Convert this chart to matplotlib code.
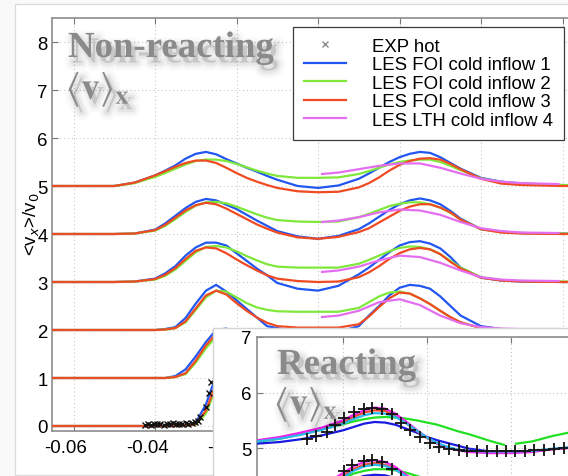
import numpy as np
import matplotlib
matplotlib.use("Agg")
import matplotlib.pyplot as plt
from matplotlib.patches import Rectangle
from matplotlib.lines import Line2D
import matplotlib.patheffects as pe
import matplotlib.transforms as mtransforms

# ---------------- data : non-reacting (main panel) ----------------
XG = [-0.066, -0.05, -0.045, -0.04, -0.0375, -0.035, -0.0325, -0.03, -0.0275, -0.025,
      -0.0225, -0.02, -0.0175, -0.015, -0.0125, -0.01, -0.005, 0.0, 0.005, 0.01,
      0.0125, 0.015, 0.0175, 0.02, 0.0225, 0.025, 0.0275, 0.03, 0.0325, 0.035,
      0.04, 0.045, 0.05, 0.06, 0.075]

BLUE = [
    [0.0, 0.0, 0.0, 0.0, 0.0, 0.0, 0.01, 0.07, 0.45, 1.05, 1.15, 1.05, 0.85, 0.62, 0.40, 0.22, 0.02, -0.05, 0.05, 0.35, 0.60, 0.85, 1.02, 1.08, 1.0, 0.80, 0.55, 0.32, 0.15, 0.06, 0.01, 0.0, 0.0, 0.0, 0.0],
    [1.0, 1.0, 1.0, 1.0, 1.0, 1.04, 1.18, 1.45, 1.75, 2.0, 2.03, 1.88, 1.66, 1.44, 1.24, 1.08, 0.94, 0.88, 0.95, 1.20, 1.45, 1.70, 1.90, 2.0, 2.02, 1.95, 1.80, 1.60, 1.40, 1.22, 1.06, 1.02, 1.0, 1.0, 1.0],
    [2.0, 2.0, 2.0, 2.0, 2.02, 2.06, 2.25, 2.55, 2.82, 2.94, 2.80, 2.62, 2.44, 2.26, 2.08, 2.04, 1.97, 1.92, 1.96, 2.08, 2.30, 2.50, 2.72, 2.88, 2.94, 2.92, 2.86, 2.70, 2.50, 2.30, 2.08, 2.02, 2.01, 2.0, 2.0],
    [3.0, 3.0, 3.01, 3.07, 3.18, 3.33, 3.55, 3.72, 3.82, 3.82, 3.76, 3.60, 3.44, 3.28, 3.14, 2.98, 2.86, 2.82, 2.92, 3.16, 3.30, 3.46, 3.62, 3.76, 3.83, 3.85, 3.80, 3.70, 3.52, 3.30, 3.09, 3.03, 3.01, 3.0, 3.0],
    [4.0, 4.0, 4.01, 4.09, 4.22, 4.38, 4.54, 4.67, 4.73, 4.70, 4.61, 4.52, 4.40, 4.28, 4.17, 4.06, 3.95, 3.90, 3.96, 4.10, 4.22, 4.36, 4.50, 4.62, 4.70, 4.74, 4.70, 4.62, 4.48, 4.32, 4.10, 4.05, 4.02, 4.01, 4.0],
    [5.0, 5.0, 5.07, 5.22, 5.32, 5.43, 5.57, 5.67, 5.71, 5.66, 5.56, 5.47, 5.38, 5.30, 5.21, 5.13, 5.00, 4.96, 5.01, 5.15, 5.26, 5.38, 5.50, 5.60, 5.67, 5.71, 5.69, 5.60, 5.48, 5.36, 5.17, 5.09, 5.05, 5.02, 5.01],
]
GREEN = [
    [0.0, 0.0, 0.0, 0.0, 0.0, 0.0, 0.01, 0.03, 0.26, 0.80, 1.05, 1.0, 0.85, 0.65, 0.45, 0.30, 0.15, 0.12, 0.15, 0.30, 0.50, 0.75, 0.95, 1.02, 0.98, 0.80, 0.55, 0.32, 0.15, 0.06, 0.01, 0.0, 0.0, 0.0, 0.0],
    [1.0, 1.0, 1.0, 1.0, 1.0, 1.02, 1.08, 1.32, 1.62, 1.86, 1.95, 1.86, 1.70, 1.52, 1.40, 1.33, 1.30, 1.30, 1.30, 1.40, 1.55, 1.72, 1.85, 1.92, 1.88, 1.75, 1.58, 1.40, 1.25, 1.14, 1.03, 1.01, 1.0, 1.0, 1.0],
    [2.0, 2.0, 2.0, 2.0, 2.01, 2.04, 2.16, 2.42, 2.68, 2.82, 2.80, 2.68, 2.56, 2.47, 2.42, 2.39, 2.38, 2.38, 2.38, 2.46, 2.58, 2.70, 2.78, 2.80, 2.76, 2.66, 2.54, 2.40, 2.26, 2.16, 2.04, 2.01, 2.0, 2.0, 2.0],
    [3.0, 3.0, 3.01, 3.05, 3.13, 3.26, 3.44, 3.62, 3.73, 3.75, 3.72, 3.64, 3.54, 3.45, 3.37, 3.32, 3.30, 3.30, 3.30, 3.38, 3.46, 3.55, 3.64, 3.71, 3.74, 3.73, 3.68, 3.58, 3.44, 3.30, 3.10, 3.04, 3.02, 3.01, 3.0],
    [4.0, 4.0, 4.01, 4.07, 4.17, 4.31, 4.46, 4.59, 4.66, 4.67, 4.64, 4.57, 4.49, 4.41, 4.34, 4.29, 4.26, 4.25, 4.26, 4.35, 4.42, 4.50, 4.58, 4.63, 4.66, 4.66, 4.62, 4.55, 4.44, 4.30, 4.10, 4.04, 4.02, 4.01, 4.0],
    [5.0, 5.0, 5.06, 5.19, 5.27, 5.36, 5.45, 5.52, 5.55, 5.55, 5.52, 5.46, 5.39, 5.32, 5.26, 5.21, 5.17, 5.17, 5.18, 5.25, 5.31, 5.38, 5.45, 5.50, 5.53, 5.55, 5.55, 5.50, 5.42, 5.33, 5.16, 5.08, 5.05, 5.02, 5.01],
]
RED = [
    [0.0, 0.0, 0.0, 0.0, 0.0, 0.0, 0.01, 0.04, 0.32, 0.88, 1.10, 1.02, 0.82, 0.60, 0.38, 0.20, 0.03, -0.02, 0.04, 0.28, 0.52, 0.78, 0.98, 1.05, 1.0, 0.80, 0.55, 0.32, 0.15, 0.06, 0.01, 0.0, 0.0, 0.0, 0.0],
    [1.0, 1.0, 1.0, 1.0, 1.0, 1.02, 1.10, 1.36, 1.68, 1.92, 1.96, 1.82, 1.62, 1.42, 1.26, 1.15, 1.06, 1.04, 1.05, 1.15, 1.32, 1.55, 1.78, 1.93, 1.97, 1.90, 1.74, 1.55, 1.36, 1.20, 1.05, 1.01, 1.0, 1.0, 1.0],
    [2.0, 2.0, 2.0, 2.0, 2.01, 2.04, 2.18, 2.45, 2.72, 2.82, 2.74, 2.56, 2.40, 2.26, 2.15, 2.08, 2.05, 2.05, 2.05, 2.12, 2.28, 2.48, 2.66, 2.78, 2.76, 2.66, 2.54, 2.40, 2.27, 2.16, 2.04, 2.01, 2.0, 2.0, 2.0],
    [3.0, 3.0, 3.01, 3.06, 3.15, 3.29, 3.48, 3.65, 3.72, 3.70, 3.60, 3.47, 3.35, 3.24, 3.14, 3.07, 3.02, 3.00, 3.01, 3.10, 3.20, 3.33, 3.48, 3.60, 3.68, 3.71, 3.68, 3.58, 3.42, 3.28, 3.09, 3.03, 3.01, 3.0, 3.0],
    [4.0, 4.0, 4.01, 4.08, 4.19, 4.34, 4.49, 4.60, 4.65, 4.62, 4.53, 4.42, 4.31, 4.20, 4.11, 4.03, 3.93, 3.90, 3.94, 4.04, 4.12, 4.24, 4.36, 4.48, 4.57, 4.62, 4.62, 4.55, 4.45, 4.30, 4.10, 4.03, 4.01, 4.0, 4.0],
    [5.0, 5.0, 5.07, 5.22, 5.31, 5.40, 5.48, 5.53, 5.53, 5.48, 5.38, 5.27, 5.17, 5.09, 5.02, 4.96, 4.89, 4.87, 4.88, 4.97, 5.06, 5.18, 5.32, 5.44, 5.52, 5.57, 5.58, 5.55, 5.46, 5.35, 5.15, 5.05, 5.02, 5.0, 5.0],
]
XM = [0.001, 0.005, 0.01, 0.015, 0.02, 0.025, 0.03, 0.035, 0.04, 0.045, 0.05, 0.059]
MAGENTA = [
    [0.28, 0.32, 0.45, 0.68, 0.80, 0.65, 0.40, 0.18, 0.07, 0.03, 0.02, 0.02],
    [1.28, 1.32, 1.45, 1.68, 1.80, 1.65, 1.40, 1.18, 1.07, 1.03, 1.02, 1.02],
    [2.27, 2.30, 2.40, 2.58, 2.64, 2.52, 2.30, 2.14, 2.06, 2.03, 2.02, 2.02],
    [3.21, 3.24, 3.32, 3.45, 3.55, 3.52, 3.40, 3.24, 3.10, 3.05, 3.03, 3.02],
    [4.25, 4.28, 4.35, 4.45, 4.51, 4.49, 4.40, 4.25, 4.12, 4.06, 4.03, 4.02],
    [5.25, 5.28, 5.35, 5.42, 5.47, 5.47, 5.38, 5.26, 5.15, 5.09, 5.06, 5.04],
]
EXP_X = [-0.0425, -0.0417, -0.0410, -0.0402, -0.0394, -0.0387, -0.0379, -0.0371, -0.0364,
         -0.0356, -0.0348, -0.0341, -0.0333, -0.0325, -0.0318, -0.0310, -0.0302, -0.0295,
         -0.0289, -0.0276, -0.0268, -0.0262]
EXP_Y = [0.03, 0.04, 0.02, 0.05, 0.04, 0.05, 0.03, 0.05, 0.04, 0.06, 0.04, 0.05, 0.05,
         0.06, 0.05, 0.07, 0.08, 0.10, 0.19, 0.40, 0.68, 0.92]

LEGEND_LABELS = ["EXP hot", "LES FOI cold inflow 1", "LES FOI cold inflow 2",
                 "LES FOI cold inflow 3", "LES LTH cold inflow 4"]
YTICKS = [0, 1, 2, 3, 4, 5, 6, 7, 8]
XTICKS = [-0.06, -0.04, -0.02, 0.0, 0.02, 0.04, 0.06]
# labels right of -0.02 lie under the inset card in the reference
XTICKLABELS = ["-0.06", "-0.04", "-0.02", "", "", "", ""]

# ---------------- data : reacting (inset) ----------------
XI = [-0.0405, -0.035, -0.03, -0.025, -0.02, -0.0175, -0.015, -0.0125, -0.01, -0.0075, -0.005,
      -0.0025, 0.0, 0.0025, 0.005, 0.0075, 0.01, 0.015, 0.02, 0.025, 0.03, 0.039]
MAG_I = [
    [4.05, 4.10, 4.18, 4.32, 4.55, 4.67, 4.75, 4.78, 4.75, 4.66, 4.52, 4.38, 4.25, 4.14, 4.06, 4.01, 3.98, 3.95, 3.94, 3.95, 3.98, 4.02],
    [5.14, 5.20, 5.28, 5.37, 5.50, 5.60, 5.68, 5.73, 5.71, 5.62, 5.48, 5.33, 5.19, 5.08, 5.00, 4.96, 4.93, 4.91, 4.91, 4.93, 4.98, 5.04],
]
RED_I = [
    [4.04, 4.09, 4.16, 4.29, 4.50, 4.62, 4.70, 4.73, 4.70, 4.62, 4.49, 4.36, 4.24, 4.13, 4.05, 4.01, 3.98, 3.96, 3.95, 3.96, 3.98, 4.02],
    [5.13, 5.19, 5.26, 5.35, 5.47, 5.56, 5.64, 5.68, 5.67, 5.58, 5.45, 5.31, 5.18, 5.08, 5.01, 4.97, 4.95, 4.93, 4.93, 4.94, 4.98, 5.04],
]
CYAN_I = [
    [4.03, 4.08, 4.15, 4.27, 4.47, 4.59, 4.67, 4.70, 4.68, 4.61, 4.49, 4.36, 4.24, 4.13, 4.05, 4.01, 3.98, 3.96, 3.96, 3.97, 3.99, 4.03],
    [5.12, 5.17, 5.24, 5.33, 5.44, 5.52, 5.59, 5.63, 5.62, 5.56, 5.45, 5.32, 5.19, 5.09, 5.02, 4.97, 4.95, 4.94, 4.94, 4.95, 4.99, 5.05],
]
BLUE_I = [
    [4.02, 4.05, 4.10, 4.20, 4.36, 4.44, 4.50, 4.52, 4.51, 4.46, 4.38, 4.30, 4.22, 4.14, 4.07, 4.02, 3.98, 3.95, 3.95, 3.96, 3.98, 4.02],
    [5.08, 5.11, 5.16, 5.23, 5.32, 5.38, 5.44, 5.47, 5.46, 5.42, 5.35, 5.28, 5.20, 5.14, 5.09, 5.04, 4.99, 4.94, 4.93, 4.94, 4.98, 5.04],
]
XGI = [-0.0405, -0.035, -0.03, -0.025, -0.02, -0.0175, -0.015, -0.0125, -0.01, -0.0075, -0.005,
       -0.0025, 0.0, 0.0025, 0.005, 0.0075, 0.01, 0.015, 0.0183, 0.0197, 0.0212, 0.025, 0.03, 0.039]
GREEN_I = [
    [4.04, 4.10, 4.18, 4.30, 4.46, 4.54, 4.59, 4.62, 4.62, 4.60, 4.56, 4.50, 4.44, 4.38, 4.32, 4.26, 4.20, 4.10, 4.05, np.nan, 4.05, 4.08, 4.14, 4.25],
    [5.11, 5.17, 5.25, 5.34, 5.43, 5.48, 5.52, 5.55, 5.56, 5.55, 5.53, 5.50, 5.46, 5.42, 5.36, 5.30, 5.25, 5.13, 5.06, np.nan, 5.08, 5.12, 5.22, 5.36],
]
EXPI_X = [
    [-0.0198, -0.0179, -0.0151, -0.0131, -0.0107, -0.0083, -0.0063],
    [-0.0286, -0.0264, -0.0239, -0.0218, -0.0197, -0.0175, -0.0151, -0.0131, -0.0107, -0.0083,
     -0.0063, -0.0040, -0.0016, 0.0008, 0.0028, 0.0052, 0.0075, 0.0095, 0.0119, 0.0143,
     0.0167, 0.0187, 0.0210, 0.0234, 0.0254, 0.0278, 0.0302, 0.0325],
]
EXPI_Y = [
    [4.58, 4.69, 4.76, 4.78, 4.75, 4.63, 4.48],
    [5.17, 5.21, 5.29, 5.41, 5.55, 5.65, 5.71, 5.73, 5.70, 5.61, 5.46, 5.32, 5.20, 5.10,
     5.02, 4.98, 4.96, 4.95, 4.94, 4.94, 4.94, 4.94, 4.95, 4.95, 4.96, 4.96, 4.98, 5.00],
]
INSET_YTICKS = [5, 6, 7]
INSET_XTICKS = [-0.02, 0.0, 0.02]

# ---------------- styles ----------------
C_BLUE, C_GREEN, C_RED, C_MAG = "#2156f0", "#7fe83a", "#ef4a22", "#e46ef0"
CI_BLUE, CI_GREEN, CI_RED, CI_MAG, CI_CYAN = "#1a1ae0", "#22e022", "#e84a2c", "#f020f0", "#2ab8ea"
TXT_GRAY = "#8a8a8a"
SANS = "Liberation Sans"

W, H = 568, 477
fig = plt.figure(figsize=(W / 100, H / 100), dpi=100)
fig.patch.set_facecolor("#f9f9f9")


def FX(p):
    return p / W


def FY(p):
    return 1 - p / H


# outer white card
fig.patches.append(Rectangle((FX(15), FY(476)), 1.2, FY(5) - FY(476), transform=fig.transFigure,
                             facecolor="white", edgecolor="#dcdcdc", lw=1.0, zorder=0))

# ---------------- main axes ----------------
X0, SX = 318.0, 4075.0      # px at x=0, px per unit
Y0, SY = 427.0, 48.0
L, R, T, B = 52, 625, 19, 432
ax = fig.add_axes([FX(L), FY(B), (R - L) / W, (B - T) / H], zorder=1)
ax.set_xlim(-(X0 - L) / SX, (R - X0) / SX)
ax.set_ylim(-(B - Y0) / SY, (Y0 - T) / SY)
ax.set_facecolor("white")

for k in range(6):
    ax.plot(XG, BLUE[k], color=C_BLUE, lw=1.6, zorder=3)
    ax.plot(XG, GREEN[k], color=C_GREEN, lw=1.6, zorder=3)
    ax.plot(XG, RED[k], color=C_RED, lw=1.6, zorder=3)
    ax.plot(XM, MAGENTA[k], color=C_MAG, lw=1.6, zorder=3)
ax.plot(EXP_X, EXP_Y, ls="none", marker="x", ms=4.5, mew=1.0, color="#111111", zorder=4)

ax.set_xticks(XTICKS)
ax.set_xticklabels(XTICKLABELS)
ax.set_yticks(YTICKS)
ax.tick_params(direction="in", length=4, width=0.8, color="#777777", top=True, right=True,
               labelsize=13.4, pad=3)
ax.tick_params(axis="x", pad=6)
for lab in ax.get_xticklabels() + ax.get_yticklabels():
    lab.set_fontfamily(SANS)
offset = mtransforms.ScaledTranslation(-8 / 100, 0, fig.dpi_scale_trans)
for lab in ax.get_xticklabels():
    lab.set_transform(lab.get_transform() + offset)
ax.grid(True, color="#c8c8c8", lw=0.8, ls=(0, (1, 2.5)))
for s in ax.spines.values():
    s.set_color("#8c8c8c")
    s.set_linewidth(1.2)

handles = [Line2D([], [], ls="none", marker="x", ms=5, mew=1.0, color="#8c8c8c"),
           Line2D([], [], color=C_BLUE, lw=1.6), Line2D([], [], color=C_GREEN, lw=1.6),
           Line2D([], [], color=C_RED, lw=1.6), Line2D([], [], color=C_MAG, lw=1.6)]
leg = ax.legend(handles, LEGEND_LABELS, loc="upper left", bbox_to_anchor=(FX(293), FY(28)),
                bbox_transform=fig.transFigure, frameon=True, fancybox=False,
                edgecolor="#3a3a3a", framealpha=1, prop=dict(family=SANS, size=13.4),
                handlelength=2.25, handletextpad=1.4, labelspacing=0.08, borderpad=0.58,
                borderaxespad=0)
leg.get_frame().set_linewidth(0.9)
leg.set_zorder(6)

# y label
fig.text(FX(32), FY(224), r"<v$_x$>/v$_0$", rotation=90, ha="center", va="center",
         fontsize=13.4, family=SANS, zorder=1.5)


def shadow():
    return [pe.Stroke(offset=(3, -4), linewidth=11, foreground="#000000", alpha=0.022),
            pe.Stroke(offset=(3, -4), linewidth=7, foreground="#000000", alpha=0.03),
            pe.Stroke(offset=(3, -4), linewidth=4, foreground="#000000", alpha=0.045),
            pe.SimplePatchShadow(offset=(3, -4), shadow_rgbFace="#000000", alpha=0.09),
            pe.Normal()]


fig.text(FX(68), FY(58), "Non-reacting", family="Liberation Serif", weight="bold",
         fontsize=26.5, color=TXT_GRAY, va="baseline", ha="left", zorder=1.5,
         path_effects=shadow())
fig.text(FX(66), FY(100), r"$\langle\mathbf{v}\rangle_{\mathbf{x}}$", math_fontfamily="stix",
         fontsize=27, color=TXT_GRAY, va="baseline", ha="left", zorder=1.5,
         path_effects=shadow())

# ---------------- inset ----------------
fig.patches.append(Rectangle((FX(213), FY(500)), 1.0, FY(329) - FY(500), transform=fig.transFigure,
                             facecolor="white", edgecolor="#d4d4d4", lw=1.0, zorder=2))
XI0, SXI = 427.0, 4200.0
YI0, SYI = 449.0, 55.7
Li, Ri, Ti, Bi = 257, 590, 338, 490
axi = fig.add_axes([FX(Li), FY(Bi), (Ri - Li) / W, (Bi - Ti) / H], zorder=3)
axi.set_xlim(-(XI0 - Li) / SXI, (Ri - XI0) / SXI)
axi.set_ylim(5 - (Bi - YI0) / SYI, 5 + (YI0 - Ti) / SYI)
axi.set_facecolor("white")
for k in range(2):
    axi.plot(XGI, GREEN_I[k], color=CI_GREEN, lw=1.6, zorder=3)
    axi.plot(XI, BLUE_I[k], color=CI_BLUE, lw=1.6, zorder=3)
    axi.plot(XI, RED_I[k], color=CI_RED, lw=1.6, zorder=3)
    axi.plot(XI, MAG_I[k], color=CI_MAG, lw=1.6, zorder=3)
    axi.plot(XI, CYAN_I[k], color=CI_CYAN, lw=1.6, zorder=3)
    axi.plot(EXPI_X[k], EXPI_Y[k], ls="none", marker="+", ms=8, mew=1.3, color="#111111", zorder=4)
axi.set_xticks(INSET_XTICKS)
axi.set_yticks(INSET_YTICKS)
axi.tick_params(direction="in", length=4, width=0.8, color="#777777", top=True, right=True,
                labelsize=13.4, pad=4, labelbottom=False)
for lab in axi.get_yticklabels():
    lab.set_fontfamily(SANS)
axi.grid(True, color="#c0c0c0", lw=0.8, ls=(0, (1, 2.5)))
for s in axi.spines.values():
    s.set_color("#8c8c8c")
    s.set_linewidth(1.2)

fig.text(FX(277), FY(375), "Reacting", family="Liberation Serif", weight="bold",
         fontsize=26.5, color=TXT_GRAY, va="baseline", ha="left", zorder=5,
         path_effects=shadow())
fig.text(FX(274), FY(415), r"$\langle\mathbf{v}\rangle_{\mathbf{x}}$", math_fontfamily="stix",
         fontsize=27, color=TXT_GRAY, va="baseline", ha="left", zorder=5,
         path_effects=shadow())

fig.savefig("out.png", dpi=100, facecolor=fig.get_facecolor())
